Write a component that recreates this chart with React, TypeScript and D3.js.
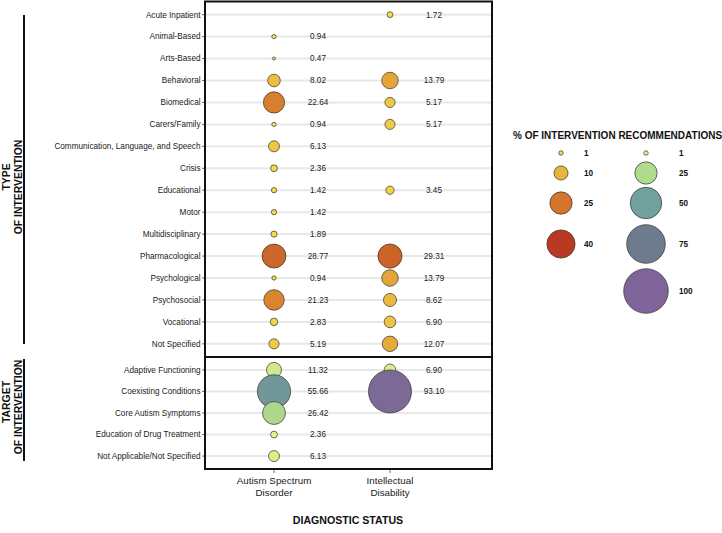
import React from 'react';
import * as d3 from 'd3';

const diagnoses = ['Autism Spectrum Disorder', 'Intellectual Disability'];
const diagnosisLines = [['Autism Spectrum', 'Disorder'], ['Intellectual', 'Disability']];

const typeCategories = [
  'Acute Inpatient', 'Animal-Based', 'Arts-Based', 'Behavioral', 'Biomedical', 'Carers/Family',
  'Communication, Language, and Speech', 'Crisis', 'Educational', 'Motor', 'Multidisciplinary',
  'Pharmacological', 'Psychological', 'Psychosocial', 'Vocational', 'Not Specified',
];
const asdType = [null, 0.94, 0.47, 8.02, 22.64, 0.94, 6.13, 2.36, 1.42, 1.42, 1.89, 28.77, 0.94, 21.23, 2.83, 5.19];
const idType = [1.72, null, null, 13.79, 5.17, 5.17, null, null, 3.45, null, null, 29.31, 13.79, 8.62, 6.9, 12.07];

const targetCategories = [
  'Adaptive Functioning', 'Coexisting Conditions', 'Core Autism Symptoms',
  'Education of Drug Treatment', 'Not Applicable/Not Specified',
];
const asdTarget = [11.32, 55.66, 26.42, 2.36, 6.13];
const idTarget = [6.9, 93.1, null, null, null];

const typeLegend = [1, 10, 25, 40];
const targetLegend = [1, 25, 50, 75, 100];

const FONT = '"Liberation Sans", Arial, Helvetica, sans-serif';

export default function App() {
  const W = 722, H = 533;
  const left = 205, right = 492;
  const topPanel = { y0: 1.5, y1: 357 };
  const botPanel = { y0: 357, y1: 469 };

  const x = d3.scalePoint<string>().domain(diagnoses).range([274, 390]);
  const yType = d3.scalePoint<string>().domain(typeCategories).range([topPanel.y0, topPanel.y1]).padding(0.6);
  const yTarget = d3.scalePoint<string>().domain(targetCategories).range([botPanel.y0, botPanel.y1]).padding(0.6);
  const r = d3.scaleSqrt().domain([0, 100]).range([0, 22.3]);

  const typeColor = d3.scaleLinear<string>()
    .domain([0, 10, 25, 40])
    .range(['#f5e34f', '#e8b43c', '#d4752b', '#b83a22'])
    .clamp(true);
  const targetColor = d3.scaleLinear<string>()
    .domain([0, 25, 50, 75, 100])
    .range(['#e9f58c', '#b0da8c', '#72a09c', '#6e7a8e', '#7e6498'])
    .clamp(true);

  const panels = [
    { cats: typeCategories, y: yType, series: [asdType, idType], color: typeColor, box: topPanel },
    { cats: targetCategories, y: yTarget, series: [asdTarget, idTarget], color: targetColor, box: botPanel },
  ];

  return (
    <svg width={W} height={H} style={{ position: 'absolute', left: 0, top: 0, background: '#fff' }} fontFamily={FONT}>
      {panels.map((p, pi) => (
        <g key={pi}>
          {/* grid lines */}
          {p.cats.map(c => (
            <line key={c} x1={left} x2={right} y1={p.y(c)} y2={p.y(c)} stroke="#e8e8e8" strokeWidth={2} />
          ))}
          {/* y axis ticks + labels */}
          {p.cats.map(c => (
            <g key={'t' + c}>
              <line x1={202} x2={left} y1={p.y(c)} y2={p.y(c)} stroke="#444" strokeWidth={0.8} />
              <text x={200.5} y={p.y(c)} dy="0.35em" textAnchor="end" fontSize={8.2} fill="#1a1a1a">{c}</text>
            </g>
          ))}
          {/* bubbles + values */}
          {p.series.map((vals, si) => (
            <g key={si}>
              {vals.map((v, i) => v == null ? null : (
                <g key={i}>
                  <circle cx={x(diagnoses[si])} cy={p.y(p.cats[i])} r={r(v)} fill={p.color(v)} stroke="#333" strokeWidth={0.7} />
                  <text x={(x(diagnoses[si]) || 0) + 44} y={p.y(p.cats[i])} dy="0.35em" textAnchor="middle" fontSize={8.2} fill="#1a1a1a">
                    {v.toFixed(2)}
                  </text>
                </g>
              ))}
            </g>
          ))}
          <rect x={left} y={p.box.y0} width={right - left} height={p.box.y1 - p.box.y0} fill="none" stroke="#111" strokeWidth={2} />
        </g>
      ))}

      {/* x axis */}
      {diagnoses.map((d, i) => (
        <g key={d}>
          <line x1={x(d)} x2={x(d)} y1={botPanel.y1 + 1} y2={botPanel.y1 + 4} stroke="#444" strokeWidth={0.8} />
          {diagnosisLines[i].map((t, j) => (
            <text key={j} x={x(d)} y={484 + j * 12} textAnchor="middle" fontSize={9.8} fill="#1a1a1a">{t}</text>
          ))}
        </g>
      ))}
      <text x={348} y={524} textAnchor="middle" fontSize={10.6} fontWeight="bold" fill="#111">DIAGNOSTIC STATUS</text>

      {/* strip labels */}
      <line x1={24} x2={24} y1={15} y2={344} stroke="#111" strokeWidth={2} />
      <text transform="translate(10,177) rotate(-90)" textAnchor="middle" fontSize={10.4} fontWeight="bold" fill="#111">TYPE</text>
      <text transform="translate(21.5,187) rotate(-90)" textAnchor="middle" fontSize={10.4} fontWeight="bold" fill="#111">OF INTERVENTION</text>
      <line x1={24} x2={24} y1={359} y2={461} stroke="#111" strokeWidth={2} />
      <text transform="translate(10,402) rotate(-90)" textAnchor="middle" fontSize={10.4} fontWeight="bold" fill="#111">TARGET</text>
      <text transform="translate(21.5,407) rotate(-90)" textAnchor="middle" fontSize={10.4} fontWeight="bold" fill="#111">OF INTERVENTION</text>

      {/* legend */}
      <text x={513} y={139} fontSize={10} fontWeight="bold" fill="#111">% OF INTERVENTION RECOMMENDATIONS</text>
      {typeLegend.map((v, i) => {
        const cy = [153, 173, 203, 244][i];
        return (
          <g key={'l' + v}>
            <circle cx={561} cy={cy} r={r(v)} fill={typeColor(v)} stroke="#333" strokeWidth={0.7} />
            <text x={584} y={cy} dy="0.35em" fontSize={8.2} fontWeight="bold" fill="#111">{v}</text>
          </g>
        );
      })}
      {targetLegend.map((v, i) => {
        const cy = [153, 173, 203, 244, 291][i];
        return (
          <g key={'r' + v}>
            <circle cx={646} cy={cy} r={r(v)} fill={targetColor(v)} stroke="#333" strokeWidth={0.7} />
            <text x={679} y={cy} dy="0.35em" fontSize={8.2} fontWeight="bold" fill="#111">{v}</text>
          </g>
        );
      })}
    </svg>
  );
}
